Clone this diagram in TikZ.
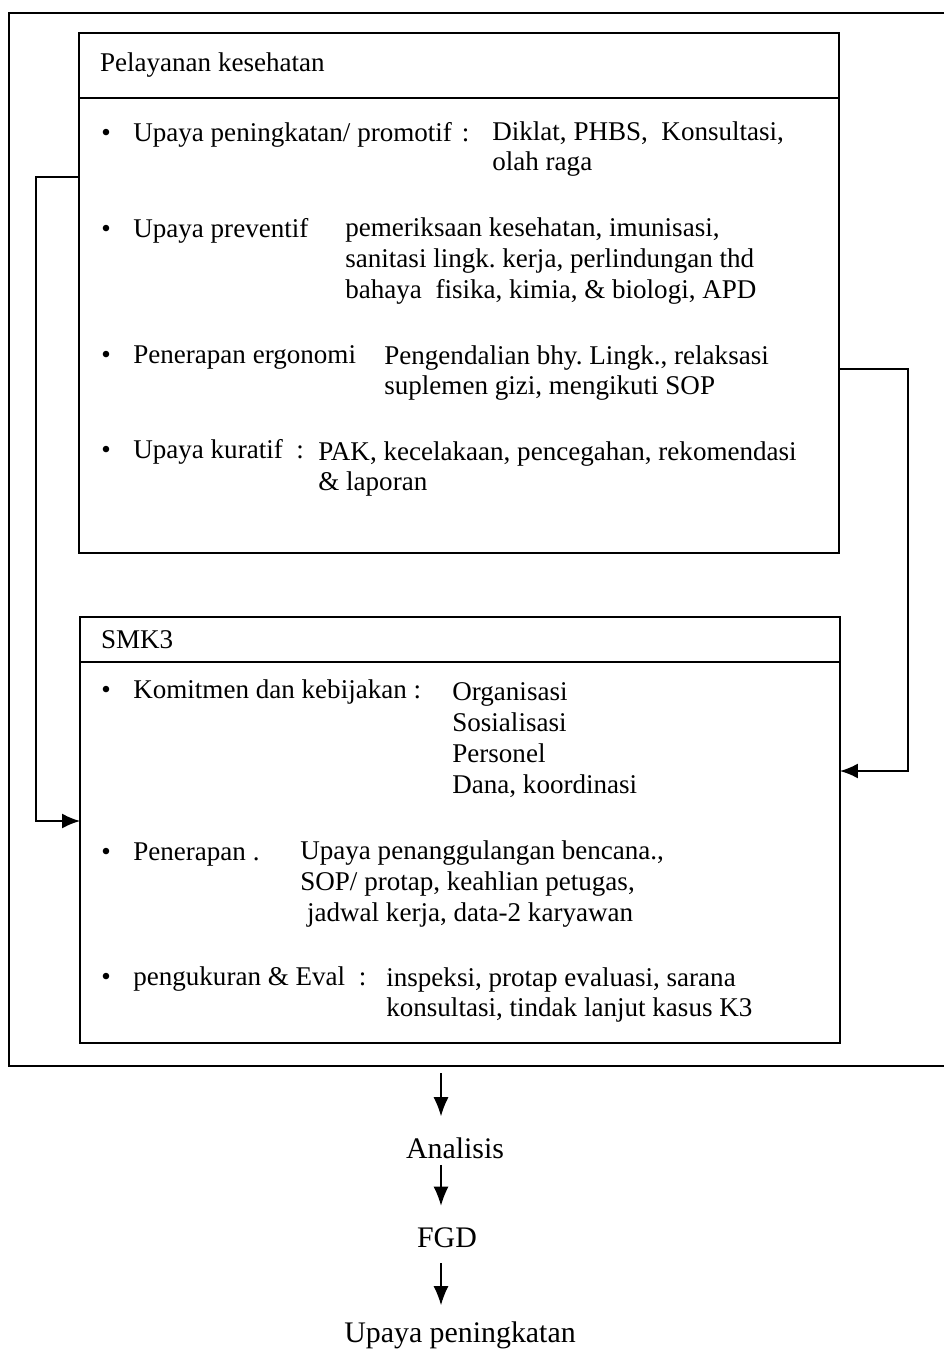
\documentclass[tikz,border=0pt]{standalone}
\usepackage{fontspec}
\setmainfont{Liberation Serif}
\usepackage{tikz}
\usetikzlibrary{positioning,arrows.meta}
\frenchspacing

\newcommand{\butir}{\makebox[0.64cm][l]{\textbullet}}

\begin{document}
\begin{tikzpicture}[x=0.02cm,y=-0.02cm,
    kotak/.style={draw,line width=1.1pt,minimum width=15.2cm,inner sep=0pt,outer sep=0pt},
    kepala/.style={inner xsep=0.42cm,text width=14.36cm,align=flush left,font=\fontsize{15.4}{17.6}\selectfont},
    teks/.style={anchor=west,inner sep=0pt,align=left,font=\fontsize{15.4}{17.6}\selectfont},
    bawah/.style={inner sep=0pt,font=\fontsize{17}{20}\selectfont},
    panah/.style={-{Latex[length=0.36cm,width=0.3cm]},line width=1.1pt},
    panahkecil/.style={-{Latex[length=0.38cm,width=0.3cm]},line width=0.6pt}]
    \useasboundingbox (0,0) rectangle (944,1356);
    % bingkai luar
    \draw[line width=1.1pt] (944,13) -- (9,13) -- (9,1066) -- (944,1066);
    \coordinate (luar-bawah) at (441,1066);

    % Pelayanan kesehatan
    \node[kotak,kepala,minimum height=1.3cm] (pelayanan) at (459,65.5) {Pelayanan kesehatan};
    \node[kotak,minimum height=9.1cm,below=0pt of pelayanan] (pelayanan-isi) {};
    \node[teks] (promotif) at (101,135) {\butir Upaya peningkatan/ promotif\hspace{0.2cm}:};
    \node[teks] (promotif-isi) at (492,149) {Diklat, PHBS,\ \ Konsultasi,\\olah raga};
    \node[teks] (preventif) at (101,231) {\butir Upaya preventif};
    \node[teks] (preventif-isi) at (345,261) {pemeriksaan kesehatan, imunisasi,\\sanitasi lingk. kerja, perlindungan thd\\bahaya\ \ fisika, kimia, \& biologi, APD};
    \node[teks] (ergonomi) at (101,357) {\butir Penerapan ergonomi};
    \node[teks] (ergonomi-isi) at (384,373) {Pengendalian bhy. Lingk., relaksasi\\suplemen gizi, mengikuti SOP};
    \node[teks] (kuratif) at (101,452) {\butir Upaya kuratif\ \ :};
    \node[teks] (kuratif-isi) at (318,469) {PAK, kecelakaan, pencegahan, rekomendasi\\\& laporan};

    % SMK3
    \node[kotak,kepala,minimum height=0.9cm] (smk) at (460,639.5) {SMK3};
    \node[kotak,minimum height=7.62cm,below=0pt of smk] (smk-isi) {};
    \node[teks] (komitmen) at (101,692) {\butir Komitmen dan kebijakan :};
    \node[teks] (komitmen-isi) at (452,740) {Organisasi\\Sosialisasi\\Personel\\Dana, koordinasi};
    \node[teks] (penerapan) at (101,855) {\butir Penerapan .};
    \node[teks] (penerapan-isi) at (300,884) {Upaya penanggulangan bencana.,\\SOP/ protap, keahlian petugas,\\\ jadwal kerja, data-2 karyawan};
    \node[teks] (evaluasi) at (101,979) {\butir pengukuran \& Eval\ \ :};
    \node[teks] (evaluasi-isi) at (386,995) {inspeksi, protap evaluasi, sarana\\konsultasi, tindak lanjut kasus K3};

    % penghubung
    \coordinate (kiri-atas) at (36,177);
    \coordinate (kiri-bawah) at (36,821);
    \draw[panah] (kiri-atas -| pelayanan-isi.west) -- (kiri-atas) -- (kiri-bawah) -- (kiri-bawah -| smk-isi.west);
    \coordinate (kanan-atas) at (908,369);
    \coordinate (kanan-bawah) at (908,771);
    \draw[panah] (kanan-atas -| pelayanan-isi.east) -- (kanan-atas) -- (kanan-bawah) -- (kanan-bawah -| smk-isi.east);

    % alur bawah
    \node[bawah] (analisis) at (455,1148) {Analisis};
    \node[bawah] (fgd) at (447,1238) {FGD};
    \node[bawah] (peningkatan) at (460,1335) {Upaya peningkatan};
    \draw[panahkecil,shorten <=0.14cm,shorten >=0.42cm] (luar-bawah) -- (luar-bawah |- analisis.north);
    \draw[panahkecil,shorten <=0.12cm,shorten >=0.44cm] (luar-bawah |- analisis.south) -- (luar-bawah |- fgd.north);
    \draw[panahkecil,shorten <=0.3cm,shorten >=0.32cm] (luar-bawah |- fgd.south) -- (luar-bawah |- peningkatan.north);
\end{tikzpicture}
\end{document}
